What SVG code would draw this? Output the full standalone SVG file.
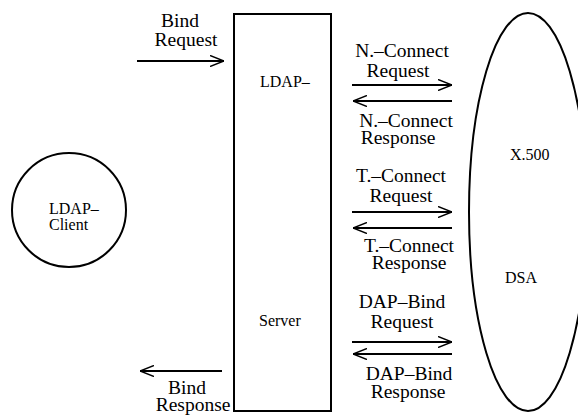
<svg xmlns="http://www.w3.org/2000/svg" width="578" height="415" viewBox="0 0 578 415">
<defs>
<marker id="open" viewBox="0 0 14 12" refX="14" refY="6" markerWidth="14" markerHeight="12" markerUnits="userSpaceOnUse" orient="auto">
<path d="M0,0.5 L14,6 L0,11.5" fill="none" stroke="#000" stroke-width="1.5"/>
</marker>
</defs>
<style>
.shape{fill:none;stroke:#000;stroke-width:2}
.conn{stroke:#000;stroke-width:2;fill:none;marker-end:url(#open)}
.lbl{font-family:"Liberation Serif","Times New Roman",serif;font-size:19.5px;fill:#000;text-anchor:middle}
.in{font-family:"Liberation Serif","Times New Roman",serif;font-size:16px;fill:#000}
</style>
<rect width="578" height="415" fill="#fff"/>
<g id="client">
<circle class="shape" cx="69" cy="210" r="57"/>
<text class="in" x="49" y="214">LDAP–</text>
<text class="in" x="49" y="230">Client</text>
</g>
<g id="server">
<rect class="shape" x="234" y="14" width="97" height="397"/>
<text class="in" x="260" y="87">LDAP–</text>
<text class="in" x="259" y="326">Server</text>
</g>
<g id="dsa">
<ellipse class="shape" cx="528" cy="212" rx="59" ry="199"/>
<text class="in" x="510" y="160">X.500</text>
<text class="in" x="505" y="283">DSA</text>
</g>
<g id="connectors">
<line class="conn" x1="137" y1="61" x2="224" y2="61"/>
<line class="conn" x1="222" y1="371" x2="140" y2="371"/>
<line class="conn" x1="352" y1="85" x2="452" y2="85"/>
<line class="conn" x1="452" y1="101" x2="353" y2="101"/>
<line class="conn" x1="352" y1="212" x2="452" y2="212"/>
<line class="conn" x1="452" y1="228" x2="353" y2="228"/>
<line class="conn" x1="352" y1="342" x2="452" y2="342"/>
<line class="conn" x1="452" y1="354" x2="353" y2="354"/>
</g>
<g id="labels">
<text class="lbl" x="180" y="27">Bind</text>
<text class="lbl" x="186" y="46">Request</text>
<text class="lbl" x="187" y="394">Bind</text>
<text class="lbl" x="193" y="411">Response</text>
<text class="lbl" x="402" y="57">N.–Connect</text>
<text class="lbl" x="398" y="77">Request</text>
<text class="lbl" x="406" y="127">N.–Connect</text>
<text class="lbl" x="398" y="144">Response</text>
<text class="lbl" x="401" y="182">T.–Connect</text>
<text class="lbl" x="401" y="202">Request</text>
<text class="lbl" x="409" y="252">T.–Connect</text>
<text class="lbl" x="409" y="269">Response</text>
<text class="lbl" x="402" y="308">DAP–Bind</text>
<text class="lbl" x="402" y="328">Request</text>
<text class="lbl" x="409" y="380">DAP–Bind</text>
<text class="lbl" x="408" y="398">Response</text>
</g>
</svg>
